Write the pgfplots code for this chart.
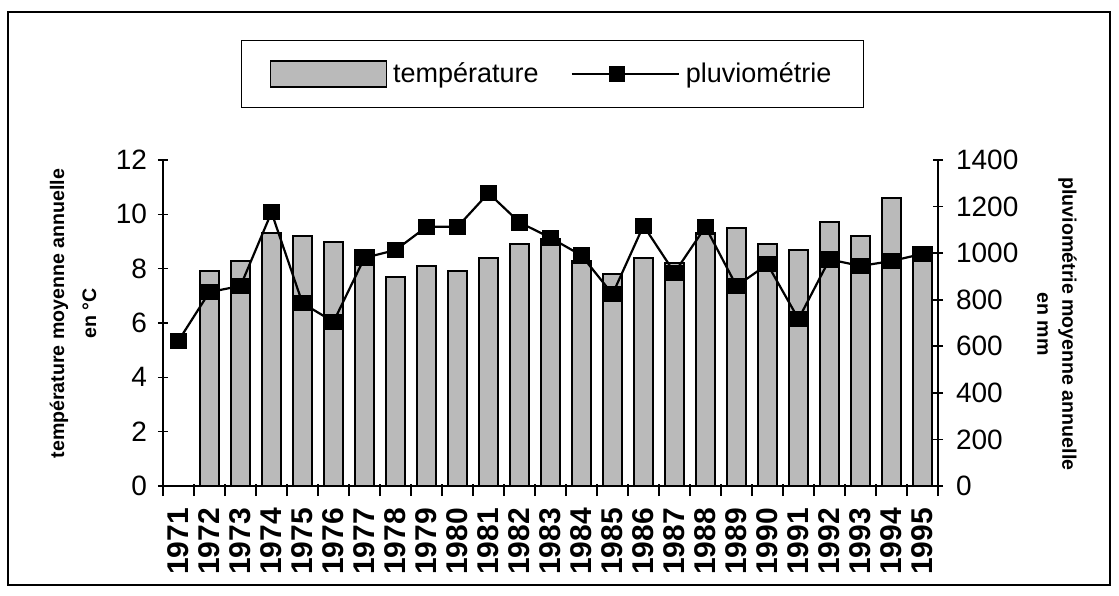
\documentclass[border=0pt]{standalone}
\usepackage{pgfplots}
\pgfplotsset{compat=1.18}
\usepackage{pgfplotstable}
\usepackage{fontspec}
\setmainfont{Liberation Sans}

\pgfplotstableread{
x temp
1 7.9
2 8.3
3 9.3
4 9.2
5 9.0
6 8.7
7 7.7
8 8.1
9 7.9
10 8.4
11 8.9
12 9.1
13 8.3
14 7.8
15 8.4
16 8.2
17 9.3
18 9.5
19 8.9
20 8.7
21 9.7
22 9.2
23 10.6
24 8.8
}\temptable

\pgfplotstableread{
x rain
0 624
1 833
2 859
3 1175
4 785
5 705
6 980
7 1013
8 1113
9 1113
10 1258
11 1132
12 1066
13 990
14 824
15 1118
16 916
17 1113
18 859
19 952
20 717
21 973
22 945
23 966
24 997
}\raintable

\pgfplotsset{
  mybarlegend/.style={legend image code/.code={\draw[##1] (0pt,-6.5pt) rectangle (58pt,6.5pt);}},
  mylinelegend/.style={legend image code/.code={\draw[mark repeat=2,mark phase=2,##1] plot coordinates {(0pt,0pt) (22.75pt,0pt) (45.5pt,0pt)};\path (0pt,0pt) -- (53.5pt,0pt);}},
  common/.style={
    at={(0,0)}, anchor=south west,
    width=387.5pt, height=163pt, scale only axis,
    xmin=-0.5, xmax=24.5,
    tick align=center, major tick length=5pt,
    axis line style={line width=1pt},
    every tick/.style={black, line width=0.8pt},
    /pgf/number format/assume math mode=true,
    /pgf/number format/1000 sep={},
    ticklabel style={font=\fontsize{14}{16}\selectfont},
  }
}

\begin{document}
\begin{tikzpicture}
\begin{axis}[common,
  ymin=0, ymax=12,
  axis y line*=left, axis x line*=bottom,
  ytick={0,2,...,12},
  yticklabel style={xshift=-2pt},
  xtick={0,...,24},
  xticklabels={1971,1972,1973,1974,1975,1976,1977,1978,1979,1980,1981,1982,1983,1984,1985,1986,1987,1988,1989,1990,1991,1992,1993,1994,1995},
  xticklabel style={rotate=90, anchor=east, font=\bfseries\fontsize{15}{17}\selectfont, xshift=-5pt},
  major x tick style={draw=none},
  minor xtick={-0.5,0.5,...,24.5},
  minor tick length=6pt,
  minor x tick style={black, line width=0.8pt, yshift=-2pt},
  every axis y label/.style={at={(axis description cs:-0.116,0.529)}, rotate=90, anchor=center, align=center, font=\bfseries\fontsize{9.8}{16}\selectfont},
  ylabel={température moyenne annuelle\\en °C},
]
\addplot[ybar, bar width=0.64, fill=black!27, draw=black, line width=1pt] table[x=x,y=temp]{\temptable};
\end{axis}
\begin{axis}[common,
  ymin=0, ymax=1400,
  axis y line*=right, axis x line=none,
  ytick={0,200,...,1400},
  yticklabel style={xshift=3pt},
  every axis y label/.style={at={(axis description cs:1.1535,0.497)}, rotate=-90, anchor=center, align=center, font=\bfseries\fontsize{9.8}{12.5}\selectfont},
  ylabel={pluviométrie moyenne annuelle\\en mm},
  legend columns=-1,
  legend style={at={(axis description cs:0.5026,1.264)}, anchor=center, draw=black, line width=0.8pt,
    inner xsep=14pt, inner ysep=9pt,
    font=\fontsize{13.5}{16}\selectfont,
    /tikz/every odd column/.append style={column sep=1pt},
    /tikz/every even column/.append style={column sep=14pt}},
]
\addlegendimage{mybarlegend, fill=black!27, draw=black, line width=0.8pt}
\addlegendentry{température}
\addplot[mylinelegend, black, line width=1.1pt, mark=square*, mark size=3.5pt, mark options={solid}] table[x=x,y=rain]{\raintable};
\addlegendentry{pluviométrie\hspace{7pt}}
\end{axis}
\draw[line width=0.8pt] (-77.5pt,-49.5pt) rectangle (473.5pt,237pt);
\pgfresetboundingbox
\path (-81.5pt,-54.5pt) rectangle (478pt,243pt);
\end{tikzpicture}
\end{document}
